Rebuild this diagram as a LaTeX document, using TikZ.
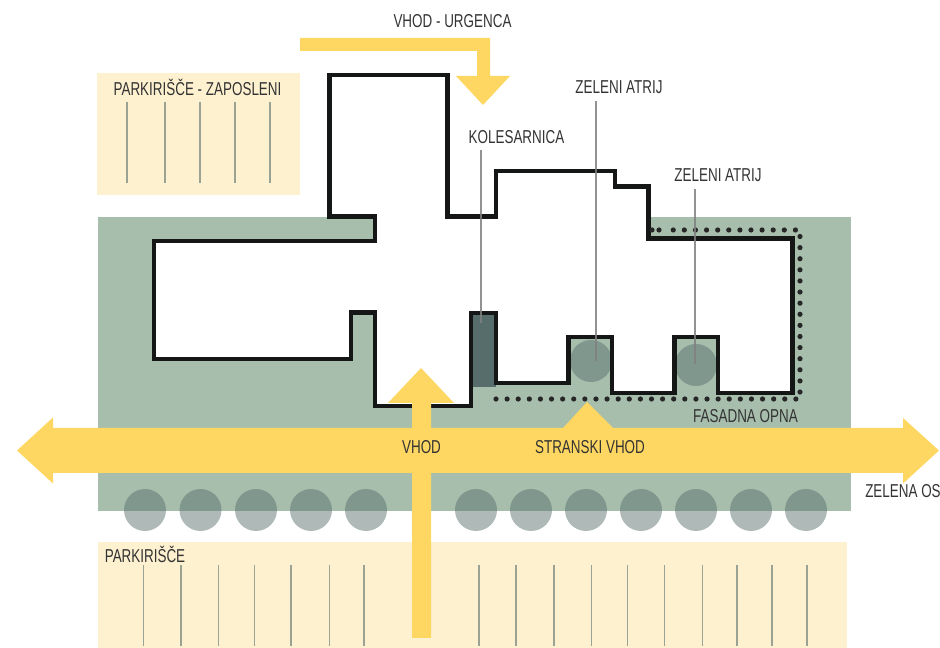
\documentclass[tikz,border=0pt]{standalone}
\usepackage{fontspec}
\setmainfont[FakeStretch=0.72]{Liberation Sans}
\usetikzlibrary{arrows.meta, positioning, calc}

\definecolor{zelena}{HTML}{A7BEAD}
\definecolor{rumena}{HTML}{FED762}
\definecolor{parking}{HTML}{FEF1D0}
\definecolor{temna}{HTML}{566D6B}
\definecolor{tekst}{HTML}{333333}

\tikzset{
    lbl/.style={inner sep=0pt, text=tekst, font=\fontsize{14pt}{14pt}\selectfont},
    leader/.style={line width=0.85pt, draw=black!50, draw opacity=0.85},
    stall/.style={line width=1.1pt, draw=temna!60!parking},
    tree/.style={fill=temna, fill opacity=0.48},
    opna/.style={line width=3.9pt, black!85, line cap=round},
}

\begin{document}
\begin{tikzpicture}[x=0.75pt, y=-0.75pt]
    \useasboundingbox (0, 0) rectangle (940, 648);

    % podlaga
    \fill[parking] (97, 73) rectangle (300, 195);
    \fill[parking] (98, 542) rectangle (847, 648);
    \fill[zelena] (98, 217) rectangle (850.5, 511);

    % objekt
    \coordinate (A) at (329.5, 75);
    \coordinate (B) at (447.5, 75);
    \coordinate (C) at (447.5, 216.5);
    \coordinate (D) at (496, 216.5);
    \coordinate (E) at (496, 171);
    \coordinate (F) at (615, 171);
    \coordinate (G) at (615, 186.5);
    \coordinate (H) at (648.5, 186.5);
    \coordinate (I) at (648.5, 238.5);
    \coordinate (J) at (792.5, 238.5);
    \coordinate (K) at (792.5, 393);
    \coordinate (L) at (718, 393);
    \coordinate (M) at (718, 337);
    \coordinate (N) at (674.5, 337);
    \coordinate (O) at (674.5, 393);
    \coordinate (P) at (612, 393);
    \coordinate (Q) at (612, 337);
    \coordinate (R) at (568.5, 337);
    \coordinate (S) at (568.5, 383);
    \coordinate (T) at (496, 383);
    \coordinate (U) at (496, 313);
    \coordinate (V) at (471, 313);
    \coordinate (W) at (471, 406);
    \coordinate (X) at (375, 406);
    \coordinate (Y) at (375, 312.5);
    \coordinate (Z) at (351, 312.5);
    \coordinate (Aa) at (351, 359);
    \coordinate (Ab) at (154, 359);
    \coordinate (Ac) at (154, 241);
    \coordinate (Ad) at (375, 241);
    \coordinate (Ae) at (375, 216.5);
    \coordinate (Af) at (329.5, 216.5);
    \fill[white] (A) -- (B) -- (C) -- (D) -- (E) -- (F) -- (G) -- (H) -- (I) -- (J) -- (K) -- (L) -- (M) -- (N) -- (O) -- (P) -- (Q) -- (R) -- (S) -- (T) -- (U) -- (V) -- (W) -- (X) -- (Y) -- (Z) -- (Aa) -- (Ab) -- (Ac) -- (Ad) -- (Ae) -- (Af) -- cycle;

    \fill[temna] (471, 313) rectangle (496, 387);

    % drevesa
    \fill[tree] (145, 510) circle (21) (200.5, 510) circle (21) (256, 510) circle (21) (311, 510) circle (21) (366, 510) circle (21);
    \fill[tree] (476, 510) circle (21) (531, 510) circle (21) (586, 510) circle (21) (641, 510) circle (21) (696, 510) circle (21) (751, 510) circle (21) (806, 510) circle (21);
    \fill[tree] (591, 361) circle (21) (696, 365) circle (21);

    \draw[line width=3.4pt, black!88!zelena] (A) -- (B) -- (C) -- (D) -- (E) -- (F) -- (G) -- (H) -- (I) -- (J) -- (K) -- (L) -- (M) -- (N) -- (O) -- (P) -- (Q) -- (R) -- (S) -- (T) -- (U) -- (V) -- (W) -- (X) -- (Y) -- (Z) -- (Aa) -- (Ab) -- (Ac) -- (Ad) -- (Ae) -- (Af) -- cycle;

    % opna
    \draw[opna, dash pattern=on 0pt off 8.33pt] (496, 399) -- (800, 399) -- (800, 230) -- (668, 230);
    \draw[opna, dash pattern=on 0pt off 5.25pt] (652, 230) -- (660, 230);

    % puscice
    \fill[rumena] (17, 450.5) -- (53, 417.5) -- (53, 428) -- (903, 428) -- (903, 418) -- (939, 450.5) -- (903, 483.5) -- (903, 473) -- (53, 473) -- (53, 483.5) -- cycle;
    \fill[rumena] (412, 638) -- (412, 403) -- (388, 403) -- (421, 368) -- (454, 403) -- (431, 403) -- (431, 638) -- cycle;
    \fill[rumena] (563, 428) -- (587, 402) -- (613, 428) -- cycle;
    \fill[rumena] (300, 38) -- (490, 38) -- (490, 76) -- (510, 76) -- (483, 105) -- (456, 76) -- (477, 76) -- (477, 51) -- (300, 51) -- cycle;

    % parkirna mesta
    \draw[stall] (127, 102) -- (127, 183) (165, 102) -- (165, 183) (200, 102) -- (200, 183) (235, 102) -- (235, 183) (270, 102) -- (270, 183);
    \draw[stall] (143.5, 565) -- (143.5, 646.5) (181, 565) -- (181, 646.5) (218.5, 565) -- (218.5, 646.5) (254.5, 565) -- (254.5, 646.5) (291, 565) -- (291, 646.5) (329.5, 565) -- (329.5, 646.5) (364, 565) -- (364, 646.5);
    \draw[stall] (479, 565) -- (479, 646.5) (516, 565) -- (516, 646.5) (554, 565) -- (554, 646.5) (591.5, 565) -- (591.5, 646.5) (627.5, 565) -- (627.5, 646.5) (664.5, 565) -- (664.5, 646.5) (702.5, 565) -- (702.5, 646.5) (737, 565) -- (737, 646.5) (772, 565) -- (772, 646.5) (807, 565) -- (807, 646.5);

    % napisi
    \node[lbl] (urgenca) at (452.5, 21.5) {VHOD - URGENCA};
    \node[lbl] (zaposleni) at (197.5, 87.5) {PARKIRIŠČE - ZAPOSLENI};
    \node[lbl] (kolesarnica) at (516.5, 137.5) {KOLESARNICA};
    \node[lbl] (atrijA) at (619, 87.5) {ZELENI ATRIJ};
    \node[lbl] (atrijB) at (718, 175.5) {ZELENI ATRIJ};
    \node[lbl] (fasada) at (745.5, 416.5) {FASADNA OPNA};
    \node[lbl] (vhod) at (421.5, 447.5) {VHOD};
    \node[lbl] (stranski) at (590, 447.5) {STRANSKI VHOD};
    \node[lbl] (os) at (903, 491.5) {ZELENA OS};
    \node[lbl] (parkirisce) at (145, 554.5) {PARKIRIŠČE};

    % vodila
    \coordinate (kolesarnicaE) at (481, 323);
    \coordinate (atrijAE) at (596, 361);
    \coordinate (atrijBE) at (695, 364);
    \draw[leader] (kolesarnica.south -| kolesarnicaE) ++(0, 6) -- (kolesarnicaE);
    \draw[leader] (atrijA.south -| atrijAE) ++(0, 7) -- (atrijAE);
    \draw[leader] (atrijB.south -| atrijBE) ++(0, 7) -- (atrijBE);
\end{tikzpicture}
\end{document}
